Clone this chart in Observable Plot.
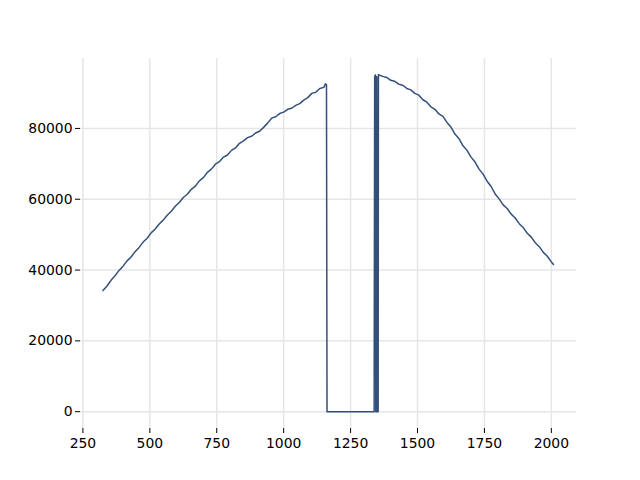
<!DOCTYPE html>
<html><head><meta charset="utf-8">
<script src="https://cdn.jsdelivr.net/npm/d3@7"></script>
<script src="https://cdn.jsdelivr.net/npm/@observablehq/plot@0.6"></script>
<style>body{margin:0;background:#fff}</style>
</head><body><div id="chart"></div>
<script>
const leftX = [325,340,355,370,385,400,415,430,445,460,475,490,505,520,535,550,565,580,595,610,625,640,655,670,685,700,715,730,745,760,775,790,805,820,835,850,865,880,895,910,925,940,955,970,985,1000,1015,1030,1045,1060,1075,1090,1105,1120,1135,1150,1156,1160];
const leftY = [34200,35500,37100,38400,39900,41100,42600,43700,45200,46400,47900,49000,50500,51600,53000,54100,55500,56600,58000,59100,60500,61400,62800,63700,65200,66100,67600,68500,69900,70600,71900,72500,73800,74500,75800,76500,77400,77800,78700,79200,80300,81500,82900,83300,84200,84600,85400,85700,86500,87000,88000,88700,89900,90200,91300,91600,92600,92300];
const gapX = [1162,1338,1340,1343,1344,1347,1348,1350,1353,1354];
const gapY = [0,0,94700,95100,0,0,94600,0,0,95200];
const rightX = [1358,1370,1385,1400,1415,1430,1445,1460,1475,1490,1505,1520,1535,1550,1565,1580,1595,1610,1625,1640,1655,1670,1685,1700,1715,1730,1745,1760,1775,1790,1805,1820,1835,1850,1865,1880,1895,1910,1925,1940,1955,1970,1985,2000,2008];
const rightY = [95000,94700,94400,93600,93300,92500,92200,91300,90900,89900,89400,88100,87400,86100,85400,84100,83400,81700,80400,78400,77100,75100,73800,71900,70500,68500,67100,65100,63600,61500,60100,58400,57400,55800,54700,53100,52000,50400,49300,47700,46600,45000,43900,42300,41600];
const xTicks = [250,500,750,1000,1250,1500,1750,2000];
const yTicks = [0,20000,40000,60000,80000];

const data = [
  ...leftX.map((x, i) => ({x, y: leftY[i]})),
  ...gapX.map((x, i) => ({x, y: gapY[i]})),
  ...rightX.map((x, i) => ({x, y: rightY[i]}))
];

const chart = Plot.plot({
  width: 640, height: 480,
  marginLeft: 80, marginRight: 64, marginTop: 58, marginBottom: 52,
  x: {domain: [241, 2094]},
  y: {domain: [-4750, 99750]},
  style: {fontFamily: "DejaVu Sans", fontSize: "13.9px", background: "white", color: "black"},
  marks: [
    Plot.gridX(xTicks, {stroke: "#e6e6e6", strokeOpacity: 1, strokeWidth: 1.5}),
    Plot.gridY(yTicks, {stroke: "#e6e6e6", strokeOpacity: 1, strokeWidth: 1.5}),
    Plot.axisX(xTicks, {tickSize: 5, tickPadding: 5, tickFormat: d => String(d), label: null}),
    Plot.axisY(yTicks, {tickSize: 5, tickPadding: 3, tickFormat: d => String(d), label: null}),
    Plot.line(data, {x: "x", y: "y", stroke: "#33507a", strokeWidth: 1.5})
  ]
});
document.getElementById("chart").append(chart);
</script>
</body></html>
